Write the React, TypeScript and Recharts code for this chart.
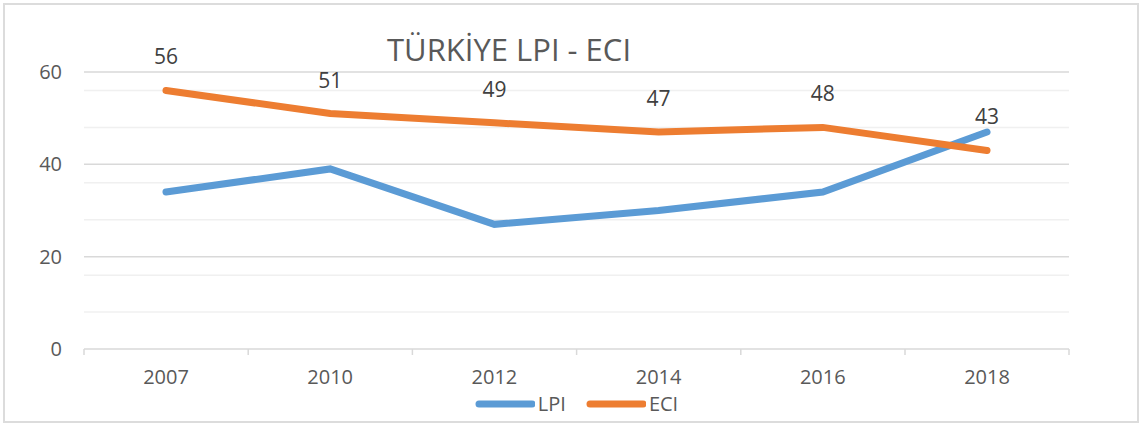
import { LineChart, Line, XAxis, YAxis, CartesianGrid, Legend, LabelList } from 'recharts';

const years = ['2007', '2010', '2012', '2014', '2016', '2018'];
const lpi = [34, 39, 27, 30, 34, 47];
const eci = [56, 51, 49, 47, 48, 43];
const yTicks = [0, 20, 40, 60];
const minorTicks = [4, 8, 12, 16, 24, 28, 32, 36, 44, 48, 52, 56];

const data = years.map((year, i) => ({ year, LPI: lpi[i], ECI: eci[i] }));

const FONT = '"Open Sans", sans-serif';
const TEXT = '#595959';
const HALF_BAND = 82;

function YearTick(props: any) {
  const { x, y, payload, index, visibleTicksCount } = props;
  const axisY = y - 21;
  return (
    <g>
      <line x1={x - HALF_BAND} y1={axisY} x2={x - HALF_BAND} y2={axisY + 6} stroke="#d9d9d9" strokeWidth={1.5} />
      {index === visibleTicksCount - 1 && (
        <line x1={x + HALF_BAND} y1={axisY} x2={x + HALF_BAND} y2={axisY + 6} stroke="#d9d9d9" strokeWidth={1.5} />
      )}
      <text x={x} y={y} dy="0.71em" textAnchor="middle" fill={TEXT} fontSize={20} fontFamily={FONT}>
        {payload.value}
      </text>
    </g>
  );
}

function LegendContent() {
  const items = [
    { name: 'LPI', color: '#5b9bd5' },
    { name: 'ECI', color: '#ed7d31' },
  ];
  return (
    <div style={{ display: 'flex', justifyContent: 'center', gap: 20, paddingLeft: 84 }}>
      {items.map((it) => (
        <div key={it.name} style={{ display: 'flex', alignItems: 'center', gap: 3 }}>
          <svg width={60} height={10}>
            <line x1={4} y1={5} x2={57} y2={5} stroke={it.color} strokeWidth={7} strokeLinecap="round" />
          </svg>
          <span style={{ fontFamily: FONT, fontSize: 20, color: TEXT, lineHeight: '22px' }}>{it.name}</span>
        </div>
      ))}
    </div>
  );
}

export default function App() {
  return (
    <div style={{ position: 'absolute', left: 0, top: 0, width: 1141, height: 424, background: '#fff' }}>
      <div
        style={{
          position: 'absolute',
          left: 3,
          top: 3,
          width: 1132,
          height: 416,
          border: '2px solid #dcdcdc',
        }}
      />
      <div
        style={{
          position: 'absolute',
          left: 387,
          top: 27,
          fontFamily: FONT,
          fontSize: 31,
          color: TEXT,
          lineHeight: '44px',
          whiteSpace: 'nowrap',
          zIndex: 2,
        }}
      >
        TÜRKİYE LPI - ECI
      </div>
      <LineChart
        width={1141}
        height={424}
        data={data}
        margin={{ top: 72, right: 72, left: 0, bottom: 6 }}
        style={{ position: 'absolute', left: 0, top: 0 }}
      >
        <CartesianGrid horizontalValues={minorTicks} vertical={false} stroke="#f0f0f0" strokeWidth={1.5} />
        <CartesianGrid horizontalValues={[20, 40, 60]} vertical={false} stroke="#d9d9d9" strokeWidth={1.5} />
        <XAxis
          dataKey="year"
          axisLine={{ stroke: '#d9d9d9', strokeWidth: 1.5 }}
          tickLine={false}
          tickSize={0}
          tickMargin={21}
          height={44}
          padding={{ left: HALF_BAND, right: HALF_BAND }}
          tick={<YearTick />}
          interval={0}
        />
        <YAxis
          domain={[0, 60]}
          ticks={yTicks}
          width={84}
          axisLine={false}
          tickLine={false}
          tickSize={0}
          tickMargin={22}
          tick={{ fill: TEXT, fontSize: 20, fontFamily: FONT }}
        />
        <Legend verticalAlign="bottom" height={25} content={<LegendContent />} />
        <Line
          type="linear"
          dataKey="LPI"
          stroke="#5b9bd5"
          strokeWidth={7}
          strokeLinecap="round"
          dot={false}
          activeDot={false}
          isAnimationActive={false}
        />
        <Line
          type="linear"
          dataKey="ECI"
          stroke="#ed7d31"
          strokeWidth={7}
          strokeLinecap="round"
          dot={false}
          activeDot={false}
          isAnimationActive={false}
        >
          <LabelList dataKey="ECI" position="top" offset={26} fill="#404040" fontSize={21} fontFamily={FONT} />
        </Line>
      </LineChart>
    </div>
  );
}
